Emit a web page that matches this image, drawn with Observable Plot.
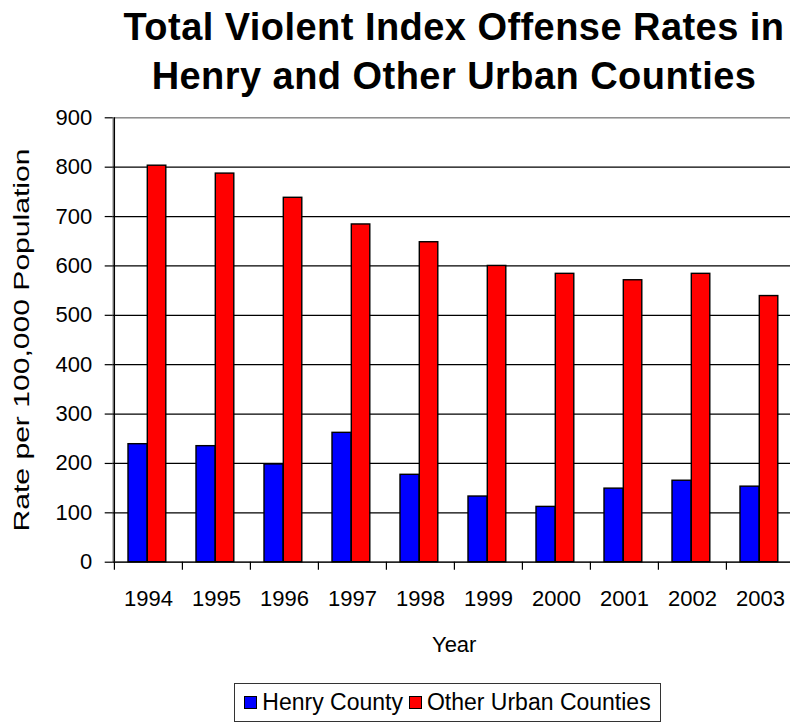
<!DOCTYPE html>
<html>
<head>
<meta charset="utf-8">
<script src="https://cdn.jsdelivr.net/npm/d3@7"></script>
<script src="https://cdn.jsdelivr.net/npm/@observablehq/plot@0.6"></script>
<style>
  html, body { margin: 0; padding: 0; overflow: hidden; background: #fff; width: 790px; height: 725px; }
  body { position: relative; font-family: "Liberation Sans", Arial, sans-serif; color: #000; }
  #title { position: absolute; left: 113px; width: 682px; top: 3px; text-align: center; font-weight: bold; font-size: 38px; letter-spacing: 0.45px; line-height: 49px; white-space: nowrap; }
  #chart { position: absolute; left: 0; top: 100px; }
  #legend { position: absolute; left: 234px; top: 683px; width: 427px; height: 39px; border: 1px solid #333; box-sizing: border-box;
            display: flex; align-items: center; justify-content: center; font-size: 23px; }
  .sw { display: inline-block; width: 11px; height: 11px; border: 1px solid #000; margin-right: 5px; }
  .item { display: flex; align-items: center; margin: 0 3px; }
</style>
</head>
<body>
<div id="title">Total Violent Index Offense Rates in<br>Henry and Other Urban Counties</div>
<div id="chart"></div>
<div id="legend"></div>
<script>
const years = ["1994", "1995", "1996", "1997", "1998", "1999", "2000", "2001", "2002", "2003"];
const henry = [239, 235, 198, 262, 177, 133, 112, 149, 165, 153];
const other = [803, 787, 738, 684, 648, 600, 584, 571, 584, 539];
const yTicks = [0, 100, 200, 300, 400, 500, 600, 700, 800, 900];
const seriesNames = ["Henry County", "Other Urban Counties"];
const seriesColors = ["#0000ff", "#ff0000"];
const yLabel = "Rate per 100,000 Population";
const xLabel = "Year";

const rows = years.map((y, i) => ({year: y, henry: henry[i], other: other[i]}));

const W = 790, H = 580;
const mL = 112.7, mR = -4.7, mT = 17.3, mB = 118.3;
const step = (W - mR - mL) / years.length;

const chart = Plot.plot({
  width: W,
  height: H,
  marginLeft: mL,
  marginRight: mR,
  marginTop: mT,
  marginBottom: mB,
  style: {fontFamily: "'Liberation Sans', Arial, sans-serif", fontSize: "22px", color: "#000", background: "#fff", overflow: "visible"},
  x: {domain: years, padding: 0, axis: null},
  y: {domain: [0, 900], axis: null},
  marks: [
    Plot.frame({stroke: "#8a8a8a", strokeWidth: 1.5}),
    Plot.ruleY(yTicks.filter(d => d > 0 && d < 900), {stroke: "#000", strokeWidth: 1.2}),
    Plot.barY(rows, {x: "year", y: "henry", fill: seriesColors[0], stroke: "#000", strokeWidth: 1.4, insetLeft: 14, insetRight: step - 33.3}),
    Plot.barY(rows, {x: "year", y: "other", fill: seriesColors[1], stroke: "#000", strokeWidth: 1.4, insetLeft: 33.3, insetRight: step - 52}),
    Plot.ruleY([0], {stroke: "#000", strokeWidth: 1.3}),
    Plot.ruleX([years[0]], {dx: -step / 2, stroke: "#000", strokeWidth: 1.3}),
    Plot.ruleX(years, {dx: -step / 2, y1: 0, y2: 0, insetBottom: -8, stroke: "#000", strokeWidth: 1.2}),
    Plot.axisY({ticks: yTicks, tickSize: 8, tickPadding: 13, fontSize: 22, stroke: "#000", strokeWidth: 1.2, label: null, tickFormat: d => String(d)}),
    Plot.axisX({tickSize: 0, tickPadding: 28, fontSize: 22, label: null}),
    Plot.text([xLabel], {frameAnchor: "bottom", dy: 89.5, lineAnchor: "bottom", fontSize: 22, fill: "#000"}),
    Plot.text([yLabel], {frameAnchor: "left", dx: -84, rotate: -90, lineAnchor: "bottom", textAnchor: "middle", fontSize: 22, fill: "#000", className: "ylab"})
  ]
});
document.getElementById("chart").appendChild(chart);

// stretch the rotated axis title along its length, as in the original
d3.select(chart).selectAll("text").filter(function () { return this.textContent === yLabel; })
  .attr("textLength", 383).attr("lengthAdjust", "spacingAndGlyphs");

const legend = document.getElementById("legend");
seriesNames.forEach((name, i) => {
  const item = document.createElement("span");
  item.className = "item";
  const sw = document.createElement("span");
  sw.className = "sw";
  sw.style.background = seriesColors[i];
  item.appendChild(sw);
  item.appendChild(document.createTextNode(name));
  legend.appendChild(item);
});
</script>
</body>
</html>
